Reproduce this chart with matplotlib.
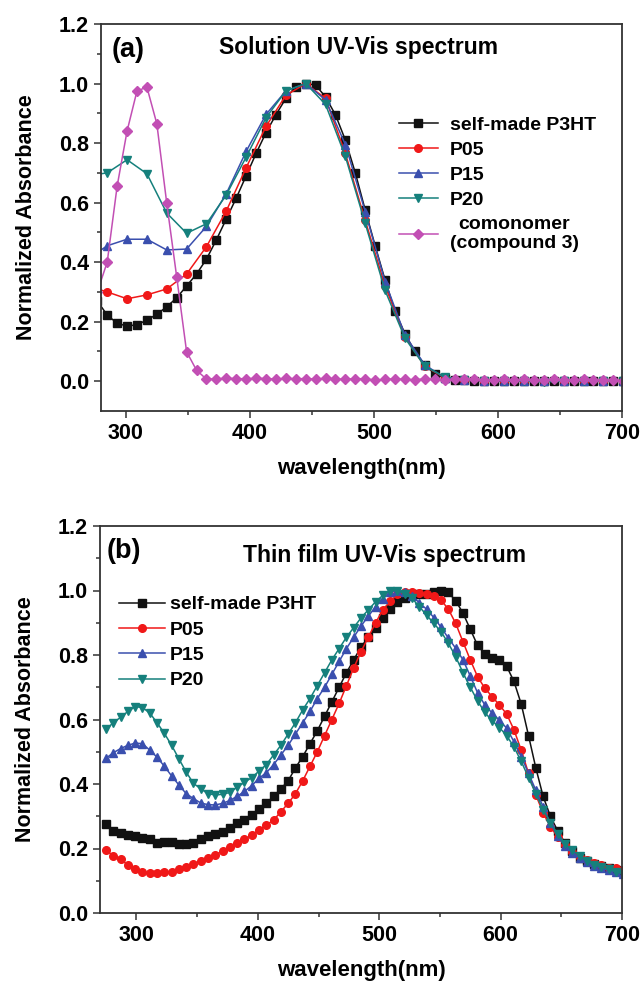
import numpy as np
import matplotlib
matplotlib.use("Agg")
from matplotlib import pyplot as plt

plt.rcParams['font.family'] = ['Liberation Sans', 'DejaVu Sans']
plt.rcParams['font.weight'] = 'bold'

# ---- (a) solution spectra ----
# dense series (8 nm step)
wl_a_dense = np.arange(277, 702, 8)
p3ht_sol = [0.27, 0.222, 0.195, 0.185, 0.19, 0.205, 0.225, 0.25, 0.28, 0.32,
            0.36, 0.41, 0.475, 0.545, 0.615, 0.69, 0.765, 0.835, 0.895, 0.95,
            0.99, 1.0, 0.995, 0.955, 0.895, 0.81, 0.70, 0.575, 0.455, 0.34,
            0.235, 0.16, 0.10, 0.055, 0.025, 0.012, 0.005,
            0.003, 0.002, 0.002, 0.002, 0.001, 0.001, 0.001, 0.001, 0.001,
            0.0, 0.0, 0.0, 0.0, 0.0, 0.0, 0.0, 0.0]
comonomer = [0.30, 0.40, 0.655, 0.84, 0.975, 0.988, 0.865, 0.598, 0.351, 0.099,
             0.037, 0.007,
             0.008, 0.010, 0.009, 0.008, 0.010, 0.009, 0.007, 0.010, 0.008, 0.009,
             0.007, 0.010, 0.008, 0.006, 0.009, 0.008, 0.004, 0.006, 0.008, 0.006,
             0.005, 0.008, 0.006, 0.005, 0.006, 0.007, 0.006, 0.004, 0.005, 0.006,
             0.004, 0.006, 0.005, 0.004, 0.006, 0.004, 0.005, 0.006, 0.003, 0.004,
             0.003, 0.002]
# sparse series (16 nm step)
wl_a_sparse = np.arange(269, 702, 16)
p05_sol = [0.32, 0.30, 0.277, 0.29, 0.31, 0.36, 0.452, 0.572, 0.717, 0.856,
           0.96, 1.0, 0.95, 0.765, 0.54, 0.32, 0.15, 0.05, 0.012, 0.004,
           0.002, 0.001, 0.001, 0.0, 0.0, 0.0, 0.0, 0.0]
p15_sol = [0.41, 0.455, 0.477, 0.477, 0.441, 0.444, 0.52, 0.63, 0.772, 0.896,
           0.975, 1.0, 0.945, 0.795, 0.57, 0.335, 0.155, 0.055, 0.012, 0.004,
           0.002, 0.001, 0.0, 0.0, 0.0, 0.0, 0.0, 0.0]
p20_sol = [0.69, 0.70, 0.744, 0.697, 0.565, 0.497, 0.529, 0.626, 0.753, 0.885,
           0.975, 1.0, 0.93, 0.755, 0.53, 0.305, 0.145, 0.05, 0.015, 0.005,
           0.002, 0.001, 0.0, -0.002, 0.0, 0.0, 0.0, 0.0]

# ---- (b) thin film spectra (6 nm step) ----
wl_b = np.arange(275, 702, 6)
p3ht_film = [0.275, 0.255, 0.247, 0.243, 0.238, 0.233, 0.228, 0.216, 0.220, 0.220,
             0.214, 0.215, 0.218, 0.228, 0.238, 0.244, 0.252, 0.263, 0.278, 0.288,
             0.304, 0.322, 0.340, 0.362, 0.385, 0.410, 0.45, 0.485, 0.525, 0.565,
             0.61, 0.655, 0.70, 0.745, 0.785, 0.825, 0.855, 0.885, 0.915, 0.943,
             0.963, 0.978, 0.986, 0.988, 0.99, 0.996, 0.998, 0.994, 0.968, 0.93,
             0.88, 0.83, 0.803, 0.79, 0.784, 0.765, 0.718, 0.648, 0.55, 0.45,
             0.362, 0.30, 0.255, 0.218, 0.192, 0.172, 0.16, 0.152, 0.145, 0.139,
             0.133, 0.128]
p05_film = [0.195, 0.177, 0.166, 0.149, 0.136, 0.128, 0.123, 0.123, 0.128, 0.128,
            0.135, 0.144, 0.152, 0.162, 0.170, 0.180, 0.192, 0.206, 0.216, 0.228,
            0.242, 0.257, 0.273, 0.288, 0.314, 0.34, 0.37, 0.41, 0.455, 0.50,
            0.55, 0.60, 0.65, 0.705, 0.76, 0.81, 0.855, 0.90, 0.94, 0.966,
            0.988, 0.996, 0.996, 0.991, 0.988, 0.983, 0.97, 0.942, 0.898, 0.841,
            0.785, 0.733, 0.697, 0.671, 0.645, 0.617, 0.568, 0.505, 0.433, 0.366,
            0.311, 0.268, 0.236, 0.21, 0.19, 0.174, 0.164, 0.154, 0.148, 0.141,
            0.138, 0.134]
p15_film = [0.48, 0.497, 0.51, 0.52, 0.527, 0.525, 0.505, 0.483, 0.455, 0.425,
            0.397, 0.37, 0.355, 0.341, 0.336, 0.335, 0.34, 0.349, 0.362, 0.377,
            0.395, 0.418, 0.435, 0.46, 0.49, 0.52, 0.555, 0.59, 0.625, 0.665,
            0.70, 0.74, 0.78, 0.82, 0.855, 0.89, 0.92, 0.95, 0.975, 0.995,
            1.0, 0.996, 0.984, 0.962, 0.942, 0.916, 0.886, 0.852, 0.821, 0.785,
            0.735, 0.683, 0.645, 0.62, 0.598, 0.573, 0.531, 0.485, 0.433, 0.381,
            0.33, 0.278, 0.238, 0.208, 0.187, 0.171, 0.157, 0.147, 0.139, 0.132,
            0.126, 0.121]
p20_film = [0.57, 0.59, 0.607, 0.625, 0.64, 0.637, 0.62, 0.59, 0.557, 0.52,
            0.478, 0.437, 0.402, 0.385, 0.37, 0.366, 0.368, 0.374, 0.39, 0.405,
            0.42, 0.44, 0.46, 0.49, 0.52, 0.555, 0.59, 0.63, 0.665, 0.705,
            0.745, 0.785, 0.82, 0.855, 0.885, 0.915, 0.94, 0.965, 0.985, 1.0,
            1.0, 0.99, 0.976, 0.95, 0.924, 0.898, 0.872, 0.836, 0.795, 0.745,
            0.70, 0.658, 0.622, 0.596, 0.575, 0.55, 0.515, 0.47, 0.42, 0.37,
            0.32, 0.28, 0.245, 0.215, 0.195, 0.177, 0.162, 0.15, 0.142, 0.135,
            0.128, 0.122]

BLACK = '#111111'
RED = '#f01818'
BLUE = '#3a4fae'
TEAL = '#15807c'
MAGENTA = '#c24fb4'

fig = plt.figure(figsize=(6.41, 9.84), dpi=100)
ax1 = fig.add_axes([101/641, 1 - 411/984, 521/641, 387/984])
ax2 = fig.add_axes([100/641, 1 - 913/984, 522/641, 387/984])


def style_axes(ax, xlim, ylim):
    ax.set_xlim(*xlim)
    ax.set_ylim(*ylim)
    ax.set_xticks([300, 400, 500, 600, 700])
    ax.set_xticks(np.arange(350, 701, 100), minor=True)
    ax.set_yticks(np.arange(0, 1.21, 0.2))
    ax.set_yticks(np.arange(0.1, 1.2, 0.2), minor=True)
    ax.yaxis.set_major_formatter(matplotlib.ticker.FormatStrFormatter('%.1f'))
    ax.tick_params(which='both', direction='out', width=1.1, color='#333333',
                   labelsize=15.5, top=False, right=False)
    ax.tick_params(which='major', length=5)
    ax.tick_params(which='minor', length=3)
    for s in ax.spines.values():
        s.set_linewidth(1.3)
        s.set_color('#333333')
    for lab in ax.get_xticklabels() + ax.get_yticklabels():
        lab.set_fontweight('bold')
    ax.set_xlabel('wavelength(nm)', fontsize=16, fontweight='bold', labelpad=10)
    ax.set_ylabel('Normalized Absorbance', fontsize=15.5, fontweight='bold', labelpad=16)


kw = dict(lw=1.1, ms=5.5)
ax1.plot(wl_a_dense, p3ht_sol, '-s', color=BLACK, label='self-made P3HT', **kw)
ax1.plot(wl_a_sparse, p05_sol, '-o', color=RED, label='P05', **kw)
ax1.plot(wl_a_sparse, p15_sol, '-^', color=BLUE, label='P15', **kw)
ax1.plot(wl_a_sparse, p20_sol, '-v', color=TEAL, label='P20', **kw)
ax1.plot(wl_a_dense, comonomer, '-D', color=MAGENTA, label='comonomer\n(compound 3)',
         lw=1.1, ms=4.8)
style_axes(ax1, (280, 700), (-0.1, 1.2))
ax1.text(0.02, 0.933, '(a)', transform=ax1.transAxes, fontsize=19.5,
         fontweight='bold', va='center', ha='left')
ax1.text(0.495, 0.938, 'Solution UV-Vis spectrum', transform=ax1.transAxes,
         fontsize=16.5, fontweight='bold', va='center', ha='center')
leg1 = ax1.legend(loc='upper left', bbox_to_anchor=(0.557, 0.781), frameon=False,
                  fontsize=14, handlelength=2.0, handletextpad=0.62,
                  labelspacing=0.37, numpoints=1, borderaxespad=0)
for t in leg1.get_texts():
    t.set_fontweight('bold')
    t.set_multialignment('center')

ax2.plot(wl_b, p3ht_film, '-s', color=BLACK, label='self-made P3HT', **kw)
ax2.plot(wl_b, p05_film, '-o', color=RED, label='P05', **kw)
ax2.plot(wl_b, p15_film, '-^', color=BLUE, label='P15', **kw)
ax2.plot(wl_b, p20_film, '-v', color=TEAL, label='P20', **kw)
style_axes(ax2, (270, 700), (0.0, 1.2))
ax2.text(0.012, 0.936, '(b)', transform=ax2.transAxes, fontsize=19.5,
         fontweight='bold', va='center', ha='left')
ax2.text(0.545, 0.925, 'Thin film UV-Vis spectrum', transform=ax2.transAxes,
         fontsize=16.5, fontweight='bold', va='center', ha='center')
leg2 = ax2.legend(loc='upper left', bbox_to_anchor=(0.022, 0.84), frameon=False,
                  fontsize=14, handlelength=2.35, handletextpad=0.27,
                  labelspacing=0.4, numpoints=1, borderaxespad=0)
for t in leg2.get_texts():
    t.set_fontweight('bold')

fig.savefig('out.png', dpi=100)
